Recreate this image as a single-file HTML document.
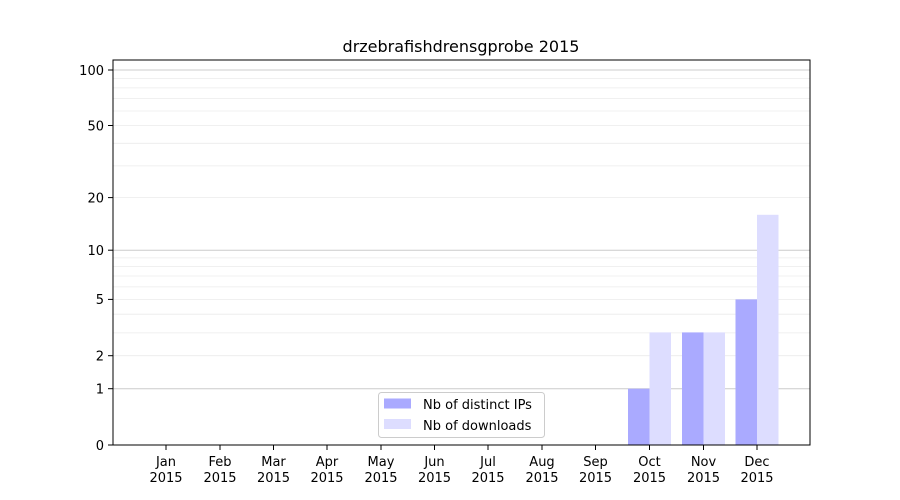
<!DOCTYPE html>
<html><head><meta charset="utf-8"><style>body{margin:0;background:#fff}svg{display:block;font-family:"DejaVu Sans","Liberation Sans",sans-serif}</style></head>
<body>
<svg width="900" height="500" viewBox="0 0 900 500" xmlns="http://www.w3.org/2000/svg">
<rect width="900" height="500" fill="#fff"/>
<g stroke="#ebebeb" stroke-width="0.8">
<line x1="113" x2="810" y1="355.7" y2="355.7"/><line x1="113" x2="810" y1="332.9" y2="332.9"/>
<line x1="113" x2="810" y1="314.2" y2="314.2"/><line x1="113" x2="810" y1="299.4" y2="299.4"/>
<line x1="113" x2="810" y1="286.9" y2="286.9"/><line x1="113" x2="810" y1="276" y2="276"/>
<line x1="113" x2="810" y1="266.5" y2="266.5"/><line x1="113" x2="810" y1="257.9" y2="257.9"/>
<line x1="113" x2="810" y1="197.6" y2="197.6"/><line x1="113" x2="810" y1="165.9" y2="165.9"/>
<line x1="113" x2="810" y1="143.3" y2="143.3"/><line x1="113" x2="810" y1="125.5" y2="125.5"/>
<line x1="113" x2="810" y1="111" y2="111"/><line x1="113" x2="810" y1="98.6" y2="98.6"/>
<line x1="113" x2="810" y1="87.9" y2="87.9"/><line x1="113" x2="810" y1="78.4" y2="78.4"/>
</g>
<g stroke="#cccccc" stroke-width="1">
<line x1="113" x2="810" y1="388.7" y2="388.7"/><line x1="113" x2="810" y1="250.2" y2="250.2"/><line x1="113" x2="810" y1="70" y2="70"/>
</g>
<g fill="#aaaaff">
<rect x="628" y="388.7" width="21.5" height="56.3"/>
<rect x="682" y="332.4" width="21.5" height="112.6"/>
<rect x="735.5" y="299.4" width="21.5" height="145.6"/>
</g>
<g fill="#ddddff">
<rect x="649.5" y="332.4" width="21.5" height="112.6"/>
<rect x="703.5" y="332.4" width="21.5" height="112.6"/>
<rect x="757" y="214.8" width="21.5" height="230.2"/>
</g>
<rect x="113" y="60" width="697" height="385" fill="none" stroke="#000" stroke-width="1"/>
<g stroke="#000" stroke-width="1">
<line x1="108" x2="113" y1="445" y2="445"/><line x1="108" x2="113" y1="388.7" y2="388.7"/>
<line x1="108" x2="113" y1="355.7" y2="355.7"/><line x1="108" x2="113" y1="299.4" y2="299.4"/>
<line x1="108" x2="113" y1="250.2" y2="250.2"/><line x1="108" x2="113" y1="197.6" y2="197.6"/>
<line x1="108" x2="113" y1="125.5" y2="125.5"/><line x1="108" x2="113" y1="70" y2="70"/>
</g>
<g font-size="13" fill="#000" text-anchor="end">
<text x="104" y="450">0</text><text x="104" y="393.5">1</text><text x="104" y="360.5">2</text>
<text x="104" y="304">5</text><text x="104" y="255">10</text><text x="104" y="202.5">20</text>
<text x="104" y="130.5">50</text><text x="104" y="75">100</text>
</g>
<g stroke="#000" stroke-width="1">
<line x1="166" x2="166" y1="445" y2="450"/><line x1="220" x2="220" y1="445" y2="450"/>
<line x1="273.5" x2="273.5" y1="445" y2="450"/><line x1="327" x2="327" y1="445" y2="450"/>
<line x1="381" x2="381" y1="445" y2="450"/><line x1="434.5" x2="434.5" y1="445" y2="450"/>
<line x1="488" x2="488" y1="445" y2="450"/><line x1="542" x2="542" y1="445" y2="450"/>
<line x1="595.5" x2="595.5" y1="445" y2="450"/><line x1="649.5" x2="649.5" y1="445" y2="450"/>
<line x1="703.5" x2="703.5" y1="445" y2="450"/><line x1="757" x2="757" y1="445" y2="450"/>
</g>
<g font-size="13" fill="#000" text-anchor="middle">
<text x="166" y="466">Jan</text><text x="166" y="482">2015</text>
<text x="220" y="466">Feb</text><text x="220" y="482">2015</text>
<text x="273.5" y="466">Mar</text><text x="273.5" y="482">2015</text>
<text x="327" y="466">Apr</text><text x="327" y="482">2015</text>
<text x="381" y="466">May</text><text x="381" y="482">2015</text>
<text x="434.5" y="466">Jun</text><text x="434.5" y="482">2015</text>
<text x="488" y="466">Jul</text><text x="488" y="482">2015</text>
<text x="542" y="466">Aug</text><text x="542" y="482">2015</text>
<text x="595.5" y="466">Sep</text><text x="595.5" y="482">2015</text>
<text x="649.5" y="466">Oct</text><text x="649.5" y="482">2015</text>
<text x="703.5" y="466">Nov</text><text x="703.5" y="482">2015</text>
<text x="757" y="466">Dec</text><text x="757" y="482">2015</text>
</g>
<text x="461" y="52" font-size="16" text-anchor="middle" fill="#000">drzebrafishdrensgprobe 2015</text>
<rect x="378.5" y="392.5" width="166" height="45" rx="3" fill="#fff" fill-opacity="0.8" stroke="#cccccc"/>
<rect x="384" y="398.5" width="27" height="10" fill="#aaaaff"/>
<rect x="384" y="419" width="27" height="10" fill="#ddddff"/>
<text x="423" y="409" font-size="13" fill="#000">Nb of distinct IPs</text>
<text x="423" y="430" font-size="13" fill="#000">Nb of downloads</text>
</svg>
</body></html>
